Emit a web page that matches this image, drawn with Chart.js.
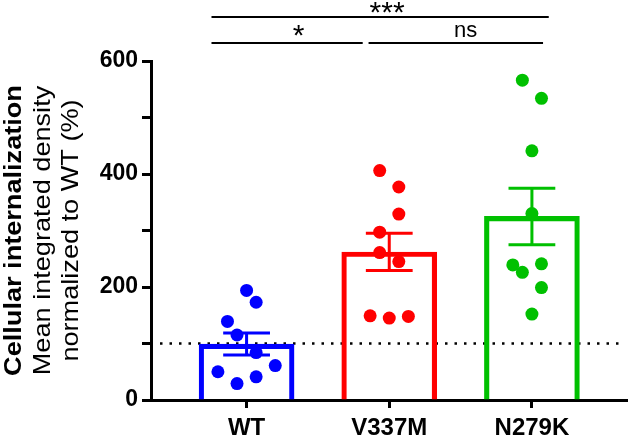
<!DOCTYPE html>
<html>
<head>
<meta charset="utf-8">
<script src="https://cdn.jsdelivr.net/npm/chart.js@4.4.0/dist/chart.umd.min.js"></script>
<style>
  html, body { margin: 0; padding: 0; background: #fff; }
  #wrap { width: 634px; height: 441px; position: relative; }
</style>
</head>
<body>
<div id="wrap"><canvas id="chart"></canvas></div>
<script>
// === DATOS ===
const categories = ["WT", "V337M", "N279K"];
const groupColors = ["#0000ff", "#ff0000", "#00c000"];

// puntos individuales (% respecto a WT)
const wtValues = [194, 173, 139, 115, 84, 61, 50, 41, 29];
const v337mValues = [406, 377, 329, 297, 261, 245, 149, 145, 148];
const n279kValues = [566, 534, 441, 330, 239, 241, 226, 199, 152];

// posición lateral de cada punto (en "huecos" del enjambre)
const wtSlots = [0, 1, -2, -1, 1, 3, -3, 1, -1];
const v337mSlots = [-1, 1, 1, -1, -1, 1, -2, 0, 2];
const n279kSlots = [-1, 1, 0, 0, -2, 1, -1, 1, 0];

// media y error estándar
const means = [99, 262, 325];
const sems = [19.5, 33, 50];

const yTickLabels = [0, 200, 400, 600];
const refValue = 100;

const comparisons = [
  { from: 0.754, to: 3.118, labelAt: 1.985, level: 678, label: "***", font: "30px 'Liberation Sans', Arial", baseline: 22 },
  { from: 0.754, to: 1.814, labelAt: 1.364, level: 632, label: "*", font: "30px 'Liberation Sans', Arial", baseline: 45 },
  { from: 1.855, to: 3.078, labelAt: 2.536, level: 632, label: "ns", font: "22px 'Liberation Sans', Arial", baseline: 37 }
];

const yTitleLines = [
  { text: "Cellular internalization", bold: true, x: 21 },
  { text: "Mean integrated density", bold: false, x: 50 },
  { text: "normalized to WT (%)", bold: false, x: 78 }
];

const FONT = "'Liberation Sans', Arial, sans-serif";
const slotWidth = 0.067;

function pointsFor(values, slots, group) {
  return values.map((v, i) => ({ x: group + slots[i] * slotWidth, y: v }));
}

// === PLUGINS ===
const refLinePlugin = {
  id: "refLine",
  beforeDatasetsDraw(chart) {
    const { ctx, chartArea } = chart;
    const y = chart.scales.y.getPixelForValue(refValue);
    ctx.save();
    ctx.strokeStyle = "#000";
    ctx.lineWidth = 2.5;
    ctx.setLineDash([2.5, 7]);
    ctx.beginPath();
    ctx.moveTo(chartArea.left + 9, y);
    ctx.lineTo(chartArea.right - 2, y);
    ctx.stroke();
    ctx.restore();
  }
};

const errorBarPlugin = {
  id: "errorBars",
  afterDatasetDraw(chart, args) {
    if (args.index !== 0) return;
    const { ctx } = chart;
    const xs = chart.scales.x, ys = chart.scales.y;
    ctx.save();
    ctx.lineWidth = 3;
    means.forEach((m, i) => {
      const x = xs.getPixelForValue(i + 1);
      const xl = xs.getPixelForValue(i + 1 - 0.164);
      const xr = xs.getPixelForValue(i + 1 + 0.164);
      const yt = ys.getPixelForValue(m + sems[i]);
      const yb = ys.getPixelForValue(m - sems[i]);
      ctx.strokeStyle = groupColors[i];
      ctx.beginPath();
      ctx.moveTo(x, yt); ctx.lineTo(x, yb);
      ctx.moveTo(xl, yt); ctx.lineTo(xr, yt);
      ctx.moveTo(xl, yb); ctx.lineTo(xr, yb);
      ctx.stroke();
    });
    ctx.restore();
  }
};

const bracketsPlugin = {
  id: "brackets",
  afterDraw(chart) {
    const { ctx } = chart;
    const xs = chart.scales.x, ys = chart.scales.y;
    ctx.save();
    ctx.strokeStyle = "#000";
    ctx.fillStyle = "#000";
    ctx.lineWidth = 2;
    comparisons.forEach((c) => {
      const y = ys.getPixelForValue(c.level);
      ctx.beginPath();
      ctx.moveTo(xs.getPixelForValue(c.from), y);
      ctx.lineTo(xs.getPixelForValue(c.to), y);
      ctx.stroke();
      ctx.font = c.font;
      ctx.textAlign = "center";
      ctx.textBaseline = "alphabetic";
      ctx.fillText(c.label, xs.getPixelForValue(c.labelAt), c.baseline);
    });
    ctx.restore();
  }
};

const yTitlePlugin = {
  id: "yTitle",
  afterDraw(chart) {
    const { ctx, chartArea } = chart;
    const cy = (chartArea.top + chartArea.bottom) / 2;
    ctx.save();
    ctx.fillStyle = "#000";
    yTitleLines.forEach((l) => {
      ctx.save();
      ctx.translate(l.x, cy);
      ctx.rotate(-Math.PI / 2);
      ctx.scale(1.13, 1);
      ctx.font = (l.bold ? "bold " : "") + "24px " + FONT;
      ctx.textAlign = "center";
      ctx.textBaseline = "alphabetic";
      ctx.fillText(l.text, 0, 0);
      ctx.restore();
    });
    ctx.restore();
  }
};

// === GRÁFICA ===
const ctx = document.getElementById("chart").getContext("2d");
new Chart(ctx, {
  data: {
    datasets: [
      {
        type: "bar",
        data: means.map((m, i) => ({ x: i + 1, y: m })),
        backgroundColor: "rgba(0,0,0,0)",
        borderColor: groupColors,
        borderWidth: 4.5,
        borderSkipped: "start",
        barThickness: 95,
        order: 3
      },
      {
        type: "scatter",
        data: pointsFor(wtValues, wtSlots, 1),
        backgroundColor: groupColors[0],
        pointRadius: 6.5,
        pointBorderWidth: 0,
        order: 1
      },
      {
        type: "scatter",
        data: pointsFor(v337mValues, v337mSlots, 2),
        backgroundColor: groupColors[1],
        pointRadius: 6.5,
        pointBorderWidth: 0,
        order: 1
      },
      {
        type: "scatter",
        data: pointsFor(n279kValues, n279kSlots, 3),
        backgroundColor: groupColors[2],
        pointRadius: 6.5,
        pointBorderWidth: 0,
        order: 1
      }
    ]
  },
  options: {
    responsive: true,
    maintainAspectRatio: false,
    animation: false,
    layout: { padding: { left: 0, top: 61, right: 5, bottom: 0 } },
    plugins: { legend: { display: false }, tooltip: { enabled: false } },
    scales: {
      x: {
        type: "linear",
        offset: false,
        min: 0.33,
        max: 3.67,
        afterBuildTicks: (scale) => {
          scale.ticks = categories.map((c, i) => ({ value: i + 1 }));
        },
        afterFit: (scale) => { scale.height = 41; },
        ticks: {
          autoSkip: false,
          maxRotation: 0,
          padding: 6,
          color: "#000",
          font: { family: FONT, size: 24, weight: "bold" },
          callback: (v) => categories[v - 1]
        },
        grid: { offset: false, drawOnChartArea: false, drawTicks: true, tickLength: 8, tickWidth: 3, color: "#000" },
        border: { display: true, width: 3, color: "#000" }
      },
      y: {
        min: 0,
        max: 600,
        afterFit: (scale) => { scale.width = 151; },
        ticks: {
          stepSize: 100,
          padding: 4,
          color: "#000",
          font: { family: FONT, size: 23, weight: "bold" },
          callback: (v) => (yTickLabels.includes(v) ? v : "")
        },
        grid: { drawOnChartArea: false, drawTicks: true, tickLength: 9, tickWidth: 3, color: "#000" },
        border: { display: true, width: 3, color: "#000" }
      }
    }
  },
  plugins: [refLinePlugin, errorBarPlugin, bracketsPlugin, yTitlePlugin]
});
</script>
</body>
</html>
